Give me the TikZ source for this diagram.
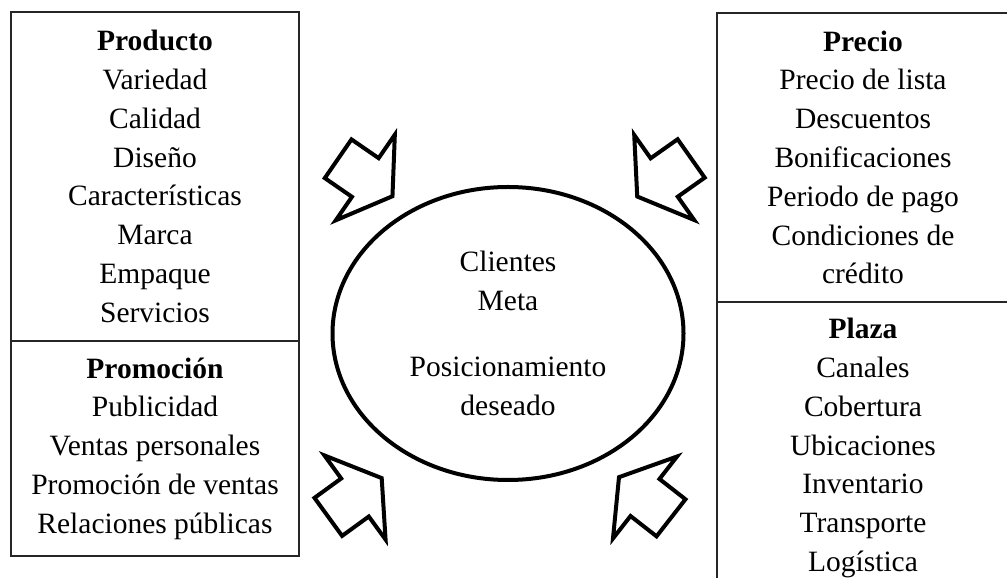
\documentclass[tikz,border=0pt]{standalone}
\usepackage{fontspec}
\setmainfont{Liberation Serif}
\usepackage{tikz}
\usetikzlibrary{shapes.geometric, positioning}
\newcommand{\mixfont}{\fontsize{29.5}{38.8}\selectfont}
\tikzstyle{box} = [rectangle, draw=black!85, line width=1.2pt, outer sep=0pt, inner sep=0pt, text centered, align=center, font=\mixfont]
\tikzstyle{target} = [ellipse, draw=black, line width=4pt, inner sep=0pt, align=center, font=\mixfont, minimum width=351pt, minimum height=293pt]
\tikzstyle{arrowshape} = [draw=black, fill=white, line width=4pt, miter limit=10]
\newcommand{\blockarrow}[2]{\draw[arrowshape, shift={(#1)}, rotate=#2]
(-33,23.5) -- (0,23.5) -- (0,52) -- (33,0) -- (0,-52) -- (0,-23.5) -- (-33,-23.5) -- cycle;}

\begin{document}
\begin{tikzpicture}[x=1pt, y=1pt]
\useasboundingbox (0,0) rectangle (1007,578);
\clip (0,0) rectangle (1007,578);

% left column
\node[box, minimum width=288pt, minimum height=329pt] (producto) at (155,401.5)
{\textbf{Producto}\\Variedad\\Calidad\\Diseño\\Características\\Marca\\Empaque\\Servicios};
\node[box, minimum width=288pt, minimum height=215pt, below=0pt of producto] (promocion)
{\textbf{Promoción}\\Publicidad\\Ventas personales\\Promoción de ventas\\Relaciones públicas};

% right column
\node[box, minimum width=292pt, minimum height=289pt] (precio) at (863,420.5)
{\textbf{Precio}\\Precio de lista\\Descuentos\\Bonificaciones\\Periodo de pago\\Condiciones de\\crédito};
\node[box, minimum width=292pt, minimum height=292pt, below=0pt of precio] (plaza)
{\textbf{Plaza}\\Canales\\Cobertura\\Ubicaciones\\Inventario\\Transporte\\Logística};

% centre
\node[target] (clientes) at (508,244.5)
{Clientes\\Meta\\[27pt]Posicionamiento\\deseado};

% arrows pointing in
\coordinate (tl) at (365.3,400.5);
\coordinate (tr) at (664.2,400.5);
\coordinate (bl) at (355,80.5);
\coordinate (br) at (645,80.5);
\blockarrow{tl}{-34.6}
\blockarrow{tr}{-144.8}
\blockarrow{bl}{36}
\blockarrow{br}{142}
\end{tikzpicture}
\end{document}
